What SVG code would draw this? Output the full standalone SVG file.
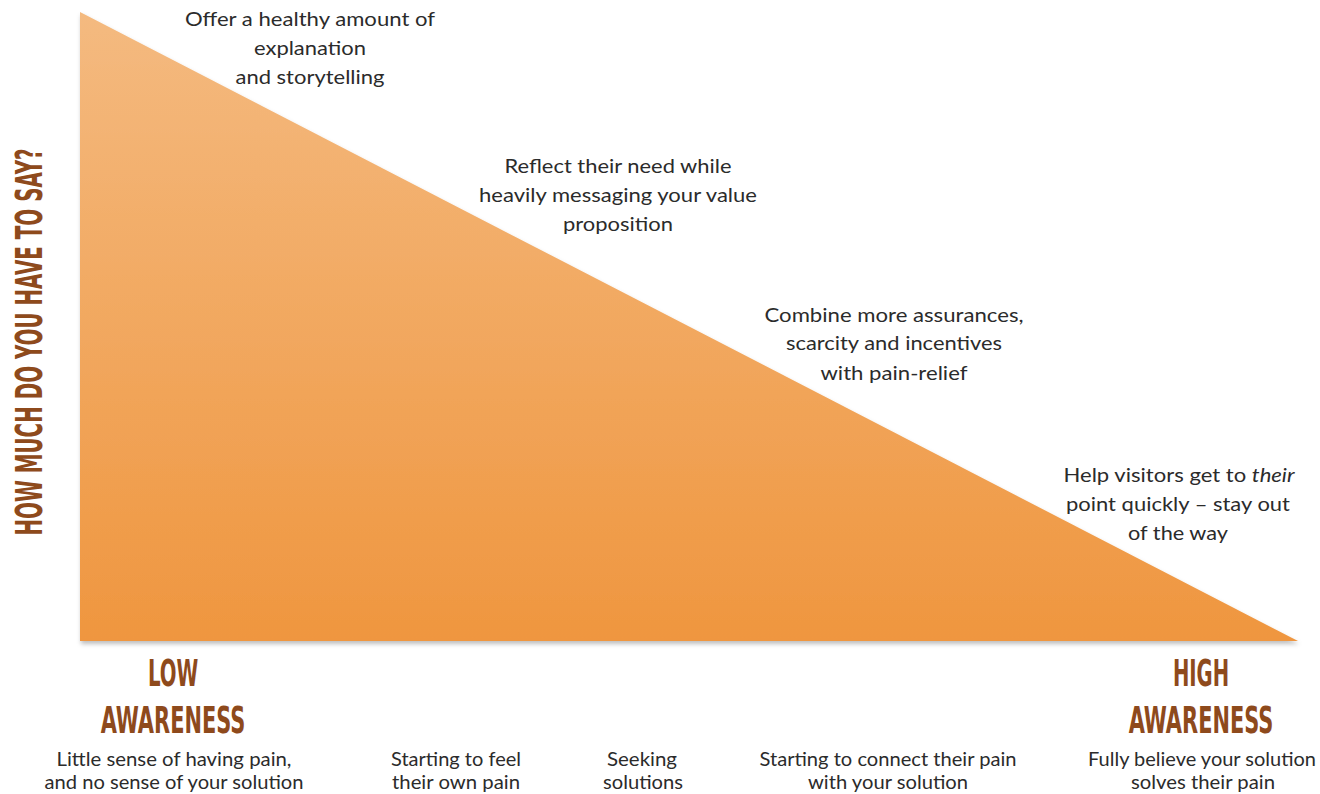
<svg xmlns="http://www.w3.org/2000/svg" width="1320" height="794" viewBox="0 0 1320 794">
<defs>
<linearGradient id="tri" x1="0" y1="0" x2="0" y2="1">
<stop offset="0" stop-color="#F4BA80"/>
<stop offset="1" stop-color="#EF963F"/>
</linearGradient>
<filter id="sh" x="-5%" y="-5%" width="110%" height="110%">
<feDropShadow dx="1" dy="3" stdDeviation="2" flood-color="#000" flood-opacity="0.25"/>
</filter>
<style>
.t{font-family:Lato,"Open Sans","Liberation Sans",sans-serif;font-size:19px;fill:#2b2b2b;text-anchor:middle}
.h{font-family:"Liberation Sans Narrow","DejaVu Sans Condensed","Liberation Sans",sans-serif;font-weight:bold;font-size:38px;fill:#8E4A1C;text-anchor:middle}
</style>
</defs>
<rect width="1320" height="794" fill="#fff"/>
<g id="triangle">
<polygon points="80,12 80,641 1298,641" fill="url(#tri)" filter="url(#sh)"/>
</g>
<g id="yaxis">
<text class="h" transform="translate(42,342) rotate(-90) scale(0.8,1)" font-size="33" textLength="484" lengthAdjust="spacingAndGlyphs">HOW MUCH DO YOU HAVE TO SAY?</text>
</g>
<g id="note1">
<text class="t" x="310" y="26" textLength="250" lengthAdjust="spacingAndGlyphs">Offer a healthy amount of</text>
<text class="t" x="310" y="55" textLength="112" lengthAdjust="spacingAndGlyphs">explanation</text>
<text class="t" x="310" y="84" textLength="149" lengthAdjust="spacingAndGlyphs">and storytelling</text>
</g>
<g id="note2">
<text class="t" x="618" y="173" textLength="227" lengthAdjust="spacingAndGlyphs">Reflect their need while</text>
<text class="t" x="618" y="202" textLength="278" lengthAdjust="spacingAndGlyphs">heavily messaging your value</text>
<text class="t" x="618" y="231" textLength="110" lengthAdjust="spacingAndGlyphs">proposition</text>
</g>
<g id="note3">
<text class="t" x="894" y="322" textLength="259" lengthAdjust="spacingAndGlyphs">Combine more assurances,</text>
<text class="t" x="894" y="350" textLength="216" lengthAdjust="spacingAndGlyphs">scarcity and incentives</text>
<text class="t" x="894" y="380" textLength="147" lengthAdjust="spacingAndGlyphs">with pain-relief</text>
</g>
<g id="note4">
<text class="t" x="1179" y="482" textLength="231" lengthAdjust="spacingAndGlyphs">Help visitors get to <tspan font-style="italic">their</tspan></text>
<text class="t" x="1178" y="511" textLength="224" lengthAdjust="spacingAndGlyphs">point quickly – stay out</text>
<text class="t" x="1178" y="540" textLength="100" lengthAdjust="spacingAndGlyphs">of the way</text>
</g>
<g id="low">
<text class="h" transform="translate(173,686) scale(0.75,1)" textLength="67" lengthAdjust="spacingAndGlyphs">LOW</text>
<text class="h" transform="translate(173,733) scale(0.75,1)" textLength="193" lengthAdjust="spacingAndGlyphs">AWARENESS</text>
</g>
<g id="high">
<text class="h" transform="translate(1201,686) scale(0.75,1)" textLength="75" lengthAdjust="spacingAndGlyphs">HIGH</text>
<text class="h" transform="translate(1201,733) scale(0.75,1)" textLength="193" lengthAdjust="spacingAndGlyphs">AWARENESS</text>
</g>
<g id="stage1">
<text class="t" x="174" y="766" textLength="235" lengthAdjust="spacingAndGlyphs">Little sense of having pain,</text>
<text class="t" x="174" y="789" textLength="259" lengthAdjust="spacingAndGlyphs">and no sense of your solution</text>
</g>
<g id="stage2">
<text class="t" x="456" y="766" textLength="130" lengthAdjust="spacingAndGlyphs">Starting to feel</text>
<text class="t" x="456" y="789" textLength="128" lengthAdjust="spacingAndGlyphs">their own pain</text>
</g>
<g id="stage3">
<text class="t" x="642" y="766" textLength="70" lengthAdjust="spacingAndGlyphs">Seeking</text>
<text class="t" x="643" y="789" textLength="80" lengthAdjust="spacingAndGlyphs">solutions</text>
</g>
<g id="stage4">
<text class="t" x="888" y="766" textLength="257" lengthAdjust="spacingAndGlyphs">Starting to connect their pain</text>
<text class="t" x="888" y="789" textLength="160" lengthAdjust="spacingAndGlyphs">with your solution</text>
</g>
<g id="stage5">
<text class="t" x="1202" y="766" textLength="228" lengthAdjust="spacingAndGlyphs">Fully believe your solution</text>
<text class="t" x="1203" y="789" textLength="144" lengthAdjust="spacingAndGlyphs">solves their pain</text>
</g>
<g id="connectors"></g>
</svg>
